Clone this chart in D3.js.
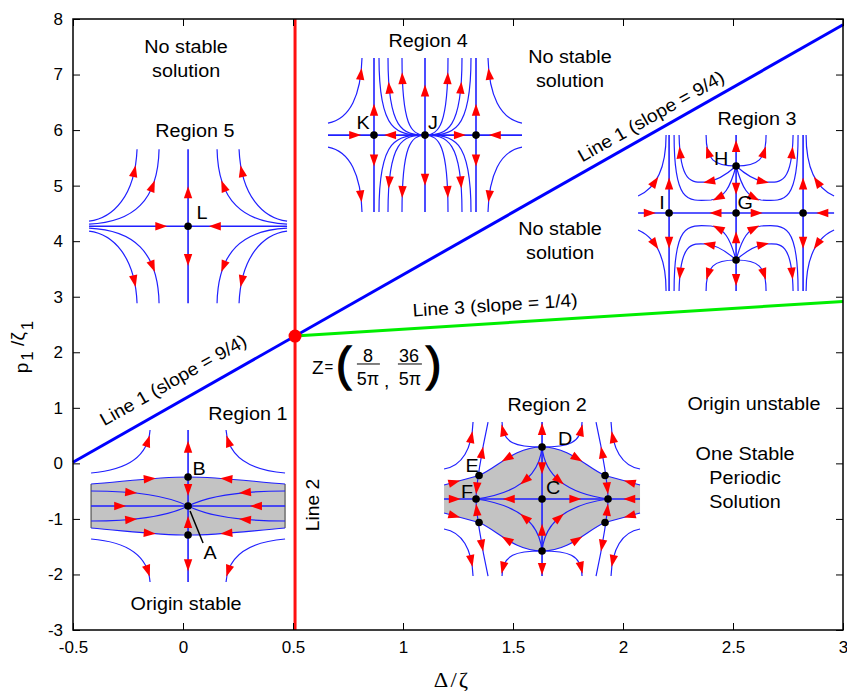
<!DOCTYPE html>
<html><head><meta charset="utf-8">
<script src="https://cdn.jsdelivr.net/npm/d3@7"></script>
<style>
body{margin:0;background:#fff}
text{font-family:"Liberation Sans",Arial,sans-serif;fill:#000}
</style>
</head><body>
<svg id="c" width="847" height="691"></svg>
<script>
// ---------- data ----------
const xDomain = [-0.5, 3];
const yDomain = [-3, 8];
const xTickValues = [-0.5, 0, 0.5, 1, 1.5, 2, 2.5, 3];
const xTickLabels = ["-0.5", "0", "0.5", "1", "1.5", "2", "2.5", "3"];
const yTickValues = [-3, -2, -1, 0, 1, 2, 3, 4, 5, 6, 7, 8];
const yTickLabels = ["-3", "-2", "-1", "0", "1", "2", "3", "4", "5", "6", "7", "8"];
const pointZ = [8 / (5 * Math.PI), 36 / (5 * Math.PI)];
const line1Slope = 9 / 4;
const line3Slope = 1 / 4;
const line1XRange = [-0.5, 3];
const line3XRange = [pointZ[0], 3];
const line2YRange = [-3, 8];

// text annotations: [lines, x, y] (data coordinates of centre)
const annotations = [
  [["No stable", "solution"], 0.014, 7.496],
  [["Region 5"], 0.054, 5.984],
  [["Region 4"], 1.114, 7.604],
  [["No stable", "solution"], 1.759, 7.316],
  [["Region 3"], 2.609, 6.20],
  [["No stable", "solution"], 1.714, 4.237],
  [["Region 1"], 0.295, 0.889],
  [["Region 2"], 1.655, 1.051],
  [["Origin unstable"], 2.595, 1.069],
  [["One Stable", "Periodic", "Solution"], 2.555, 0.169],
  [["Origin stable"], 0.014, -2.532]
];
// labels along the lines: [text, x, y, slope]
const lineLabels = [
  ["Line 1 (slope = 9/4)", -0.045, 1.50, line1Slope],
  ["Line 1 (slope = 9/4)", 2.127, 6.25, line1Slope],
  ["Line 3 (slope = 1/4)", 1.418, 2.85, line3Slope]
];
const line2Label = ["Line 2", 0.591, -0.75];
const zLabelAnchor = [0.586, 1.735];

// ---------- phase-portrait insets (local pixel units around centre) ----------
const regionL = {
  center: [0.023, 4.27],
  curves: [
    {pts: [[-99, 0], [0, 0]], arrows: [[0.73, 1]], mirror: "x", main: 1},
    {pts: [[0, 0], [0, -77]], arrows: [[0.44, 1]], mirror: "y", main: 1},
    {pts: [[-99, -5], [-75, -8], [-53, -30], [-51, -77]], arrows: [[0.83, 1]], mirror: "xy"},
    {pts: [[-99, -2], [-55, -4], [-30, -25], [-29, -77]], arrows: [[0.72, 1]], mirror: "xy"}
  ],
  dots: [[0, 0]],
  labels: [["L", 14, -14]]
};
const regionJ = {
  center: [1.10, 5.91],
  curves: [
    {pts: [[-97, 0], [0, 0]], arrows: [[0.28, 1], [0.64, -1]], mirror: "x", main: 1},
    {pts: [[0, 0], [0, -77]], arrows: [[0.58, 1]], mirror: "y", main: 1},
    {pts: [[-51, 0], [-51, -77]], arrows: [[0.33, 1]], mirror: "xy", main: 1},
    {pts: [[0, 0], [-28, 0], [-46, -2], [-46, -77]], arrows: [], mirror: "xy"},
    {pts: [[0, 0], [-22, 0], [-37, -5], [-37, -77]], arrows: [[0.84, 1]], mirror: "xy"},
    {pts: [[0, 0], [-14, 0], [-23, -10], [-23, -77]], arrows: [[0.89, 1]], mirror: "xy"},
    {pts: [[-97, -12], [-75, -16], [-64, -40], [-63, -77]], arrows: [[0.85, 1]], mirror: "xy"}
  ],
  dots: [[0, 0], [-51, 0], [51, 0]],
  labels: [["K", -62, -13], ["J", 8, -13]]
};
const regionG = {
  center: [2.514, 4.507],
  curves: [
    {pts: [[-98, 0], [0, 0]], arrows: [[0.12, 1], [0.79, -1]], mirror: "x", main: 1},
    {pts: [[0, 0], [0, -78]], arrows: [[0.31, -1], [0.86, 1]], mirror: "y", main: 1},
    {pts: [[-67, 0], [-67, -78]], arrows: [[0.38, 1]], mirror: "xy", main: 1},
    {pts: [[0, -47], [-22, -47], [-30, -53], [-30, -78]], arrows: [[0.72, 1]], mirror: "xy"},
    {pts: [[0, -47], [-10, -38], [-20, -32], [-30, -31], [-45, -30], [-56, -30], [-57, -78]], arrows: [[0.45, 1], [0.93, 1]], mirror: "xy"},
    {pts: [[0, -47], [-6, -25], [-12, -15], [-25, -13], [-50, -11], [-62, -12], [-62, -78]], arrows: [[0.4, 1]], mirror: "xy"},
    {pts: [[-98, -17], [-80, -25], [-70, -45], [-70, -78]], arrows: [[0.38, 1]], mirror: "xy"}
  ],
  dots: [[0, 0], [0, -47], [0, 47], [-67, 0], [67, 0]],
  labels: [["H", -15, -55], ["G", 9, -11], ["I", -74, -11]]
};
const regionA = {
  center: [0.023, -0.768],
  shade: "M-97,-22C-60,-25,-30,-29,0,-29C30,-29,60,-25,97,-22L97,22C60,25,30,29,0,29C-30,29,-60,25,-97,22Z",
  edges: [[[-97, -22], [-97, 22]], [[97, -22], [97, 22]]],
  curves: [
    {pts: [[-97, -22], [-60, -25], [-30, -29], [0, -29]], arrows: [[0.58, 1]], mirror: "xy"},
    {pts: [[-97, -15], [-50, -15], [-20, -10], [0, 0]], arrows: [[0.32, 1]], mirror: "xy"},
    {pts: [[-97, 0], [0, 0]], arrows: [[0.3, 1]], mirror: "x", main: 1},
    {pts: [[0, 0], [0, -76]], arrows: [[0.21, -1], [0.78, 1]], mirror: "y", main: 1},
    {pts: [[-97, -33], [-60, -36], [-40, -50], [-38, -76]], arrows: [[0.85, 1]], mirror: "xy"}
  ],
  dots: [[0, 0], [0, -29], [0, 29]],
  labels: [["B", 11, -38], ["A", 22, 46]],
  leader: [[2, 5], [15, 37]]
};
const regionC = {
  center: [1.632, -0.642],
  shade: "M-98,-14L-63,-23.5C-45,-31,-28,-52,0,-52C28,-52,45,-31,63,-23.5L98,-14L98,14L63,23.5C45,31,28,52,0,52C-28,52,-45,31,-63,23.5L-98,14Z",
  edges: [],
  curves: [
    {pts: [[-98, -14], [-63, -23.5]], arrows: [[0.3, 1]], mirror: "xy"},
    {pts: [[-63, -23.5], [-45, -31], [-28, -52], [0, -52]], arrows: [[0.5, -1]], mirror: "xy"},
    {pts: [[-98, 0], [0, 0]], arrows: [[0.11, 1], [0.66, -1]], mirror: "x", main: 1},
    {pts: [[0, 0], [0, -77]], arrows: [[0.4, -1], [0.91, 1]], mirror: "y", main: 1},
    {pts: [[-66, 0], [-66, -12], [-61, -45], [-54, -77]], arrows: [[0.22, -1], [0.68, 1]], mirror: "xy"},
    {pts: [[0, -52], [-25, -52], [-40, -55], [-40, -77]], arrows: [[0.86, 1]], mirror: "xy"},
    {pts: [[0, -52], [-3, -20], [-30, -5], [-66, 0]], arrows: [[0.45, 1]], mirror: "xy"},
    {pts: [[-98, -30], [-80, -33], [-70, -50], [-69, -77]], arrows: [[0.8, 1]], mirror: "xy"}
  ],
  dots: [[0, 0], [0, -52], [0, 52], [-66, 0], [66, 0], [-63, -23.5], [63, -23.5], [-63, 23.5], [63, 23.5]],
  labels: [["D", 23, -61], ["E", -70, -34], ["F", -75, -8], ["C", 11, -12]]
};
const insets = [regionL, regionJ, regionG, regionA, regionC];

// ---------- drawing ----------
const svg = d3.select("#c");
const X = d3.scaleLinear().domain(xDomain).range([73, 843]);
const Y = d3.scaleLinear().domain(yDomain).range([630, 19]);
const SX = 1.07; // horizontal text stretch of the original

function txt(g, str, px, py, o = {}) {
  const t = g.append("text")
    .attr("transform", `translate(${px},${py}) rotate(${o.rot || 0}) scale(${o.sx || SX},1)`)
    .attr("text-anchor", o.anchor || "middle")
    .attr("dy", o.dy || "0.35em")
    .style("font-size", (o.fs || 18.5) + "px");
  if (o.family) t.style("font-family", o.family);
  if (o.weight) t.style("font-weight", o.weight);
  t.text(str);
  return t;
}

function evalCurve(pts, t) {
  if (pts.length === 2) {
    const [a, b] = pts;
    return {p: [a[0] + (b[0] - a[0]) * t, a[1] + (b[1] - a[1]) * t], d: [b[0] - a[0], b[1] - a[1]]};
  }
  const n = (pts.length - 1) / 3;
  const s = Math.min(Math.floor(t * n), n - 1);
  const u = t * n - s, m = 1 - u;
  const p0 = pts[3 * s], p1 = pts[3 * s + 1], p2 = pts[3 * s + 2], p3 = pts[3 * s + 3];
  const p = [0, 1].map(k => m * m * m * p0[k] + 3 * m * m * u * p1[k] + 3 * m * u * u * p2[k] + u * u * u * p3[k]);
  const d = [0, 1].map(k => 3 * m * m * (p1[k] - p0[k]) + 6 * m * u * (p2[k] - p1[k]) + 3 * u * u * (p3[k] - p2[k]));
  return {p, d};
}
function variants(c) {
  const m = c.mirror || "";
  const out = [c.pts];
  if (m.includes("x")) out.push(c.pts.map(([a, b]) => [-a, b]));
  if (m.includes("y")) out.push(...out.map(ps => ps.map(([a, b]) => [a, -b])));
  return out;
}

const gInsets = svg.append("g");
insets.forEach(R => {
  const ox = X(R.center[0]), oy = Y(R.center[1]);
  const lx = d3.scaleLinear().domain([0, 1]).range([ox, ox + 1]);
  const ly = d3.scaleLinear().domain([0, 1]).range([oy, oy + 1]);
  const g = gInsets.append("g");
  if (R.shade) {
    g.append("path").attr("d", R.shade).attr("transform", `translate(${ox},${oy})`)
      .attr("fill", "#c3c3c3").attr("stroke", "none");
    R.edges.forEach(e => g.append("line")
      .attr("x1", lx(e[0][0])).attr("y1", ly(e[0][1])).attr("x2", lx(e[1][0])).attr("y2", ly(e[1][1]))
      .attr("stroke", "#555").attr("stroke-width", 1.2));
  }
  const arrowList = [];
  R.curves.forEach(c => {
    variants(c).forEach(ps => {
      const path = d3.path();
      path.moveTo(lx(ps[0][0]), ly(ps[0][1]));
      if (ps.length === 2) path.lineTo(lx(ps[1][0]), ly(ps[1][1]));
      else for (let i = 1; i < ps.length; i += 3)
        path.bezierCurveTo(lx(ps[i][0]), ly(ps[i][1]), lx(ps[i + 1][0]), ly(ps[i + 1][1]), lx(ps[i + 2][0]), ly(ps[i + 2][1]));
      g.append("path").attr("d", path.toString()).attr("fill", "none")
        .attr("stroke", "#1f1fff").attr("stroke-width", c.main ? 1.6 : 1.2);
      c.arrows.forEach(([t, dir]) => {
        const e = evalCurve(ps, t);
        const len = Math.hypot(e.d[0], e.d[1]) || 1;
        arrowList.push({p: e.p, tx: dir * e.d[0] / len, ty: dir * e.d[1] / len});
      });
    });
  });
  arrowList.forEach(a => {
    const L = 12, hw = 4.2;
    const cx = lx(a.p[0]), cy = ly(a.p[1]);
    const tip = [cx + a.tx * L / 2, cy + a.ty * L / 2];
    const b = [cx - a.tx * L / 2, cy - a.ty * L / 2];
    const nx = -a.ty, ny = a.tx;
    g.append("path")
      .attr("d", `M${tip[0]},${tip[1]}L${b[0] + nx * hw},${b[1] + ny * hw}L${b[0] - nx * hw},${b[1] - ny * hw}Z`)
      .attr("fill", "#ff0000");
  });
  if (R.leader) {
    g.append("line").attr("x1", lx(R.leader[0][0])).attr("y1", ly(R.leader[0][1]))
      .attr("x2", lx(R.leader[1][0])).attr("y2", ly(R.leader[1][1]))
      .attr("stroke", "#000").attr("stroke-width", 1.5);
  }
  R.dots.forEach(d => g.append("circle").attr("cx", lx(d[0])).attr("cy", ly(d[1])).attr("r", 3.8).attr("fill", "#000"));
  R.labels.forEach(l => txt(g, l[0], lx(l[1]), ly(l[2]), {fs: 18.5}));
});

// main lines
const gLines = svg.append("g");
const lineGen = d3.line().x(d => X(d[0])).y(d => Y(d[1]));
gLines.append("path")
  .attr("d", lineGen(line1XRange.map(x => [x, pointZ[1] + line1Slope * (x - pointZ[0])])))
  .attr("stroke", "#0000ff").attr("stroke-width", 3).attr("fill", "none");
gLines.append("path")
  .attr("d", lineGen(line3XRange.map(x => [x, pointZ[1] + line3Slope * (x - pointZ[0])])))
  .attr("stroke", "#00ee00").attr("stroke-width", 3).attr("fill", "none");
gLines.append("path")
  .attr("d", lineGen(line2YRange.map(y => [pointZ[0], y])))
  .attr("stroke", "#ff1010").attr("stroke-width", 3).attr("fill", "none");
gLines.append("circle").attr("cx", X(pointZ[0])).attr("cy", Y(pointZ[1])).attr("r", 6.5).attr("fill", "#ff0000");

// annotations
const gText = svg.append("g");
annotations.forEach(([lines, x, y]) => {
  lines.forEach((s, i) => txt(gText, s, X(x), Y(y) + i * 24, {fs: 18.5}));
});
lineLabels.forEach(([s, x, y, slope]) => {
  const ang = Math.atan2(Y(0) - Y(slope), X(1) - X(0)) * 180 / Math.PI;
  txt(gText, s, X(x), Y(y), {fs: 18, rot: -ang});
});
txt(gText, line2Label[0], X(line2Label[1]), Y(line2Label[2]), {fs: 18, rot: -90});

// Z label
{
  const ax = X(zLabelAnchor[0]), ay = Y(zLabelAnchor[1]);
  const g = gText.append("g");
  txt(g, "Z", ax, ay, {fs: 19, anchor: "start", sx: 1});
  txt(g, "=", ax + 12.5, ay, {fs: 15, anchor: "start", sx: 1});
  txt(g, "(", ax + 24, ay - 3, {fs: 46, anchor: "start", sx: 1}).style("stroke", "#000").style("stroke-width", 1.3);
  txt(g, ")", ax + 114, ay - 3, {fs: 46, anchor: "start", sx: 1}).style("stroke", "#000").style("stroke-width", 1.3);
  txt(g, "8", ax + 56, ay - 11, {fs: 18, sx: 1});
  txt(g, "5π", ax + 56, ay + 12, {fs: 18, sx: 1});
  g.append("line").attr("x1", ax + 45).attr("x2", ax + 68).attr("y1", ay - 3).attr("y2", ay - 3).attr("stroke", "#000").attr("stroke-width", 1);
  txt(g, ",", ax + 72, ay + 13, {fs: 19, anchor: "start", sx: 1});
  txt(g, "36", ax + 97, ay - 11, {fs: 18, sx: 1});
  txt(g, "5π", ax + 98, ay + 12, {fs: 18, sx: 1});
  g.append("line").attr("x1", ax + 86).attr("x2", ax + 110).attr("y1", ay - 3).attr("y2", ay - 3).attr("stroke", "#000").attr("stroke-width", 1);
}

// axes
const gAx = svg.append("g");
const fmtX = d => xTickLabels[xTickValues.indexOf(d)];
const fmtY = d => yTickLabels[yTickValues.indexOf(d)];
const axB = gAx.append("g").attr("transform", `translate(0,${Y(yDomain[0])})`)
  .call(d3.axisBottom(X).tickValues(xTickValues).tickFormat(fmtX).tickSize(-7).tickPadding(11));
const axL = gAx.append("g").attr("transform", `translate(${X(xDomain[0])},0)`)
  .call(d3.axisLeft(Y).tickValues(yTickValues).tickFormat(fmtY).tickSize(-7).tickPadding(10));
const axT = gAx.append("g").attr("transform", `translate(0,${Y(yDomain[1])})`)
  .call(d3.axisTop(X).tickValues(xTickValues).tickFormat("").tickSize(-7));
const axR = gAx.append("g").attr("transform", `translate(${X(xDomain[1])},0)`)
  .call(d3.axisRight(Y).tickValues(yTickValues).tickFormat("").tickSize(-7));
[axB, axL, axT, axR].forEach(a => {
  a.select(".domain").remove();
  a.selectAll(".tick line").attr("stroke", "#000").attr("stroke-width", 1);
  a.selectAll(".tick text").style("font-family", '"Liberation Sans",Arial,sans-serif').style("font-size", "17px").attr("fill", "#000");
});
gAx.append("rect").attr("x", X(xDomain[0])).attr("y", Y(yDomain[1]))
  .attr("width", X(xDomain[1]) - X(xDomain[0])).attr("height", Y(yDomain[0]) - Y(yDomain[1]))
  .attr("fill", "none").attr("stroke", "#000").attr("stroke-width", 1.5);

// axis titles
txt(svg, "Δ/ζ", (X(xDomain[0]) + X(xDomain[1])) / 2 - 6, 680, {fs: 21, family: '"Liberation Serif","DejaVu Serif",serif'}).style("letter-spacing", "2px");
{
  const t = svg.append("text").attr("transform", "translate(28,347) rotate(-90)")
    .attr("text-anchor", "middle").style("font-size", "19px");
  t.append("tspan").text("p");
  t.append("tspan").attr("dy", 5).attr("dx", 2).style("font-size", "17px").text("1");
  t.append("tspan").attr("dy", -9).text(" /ζ");
  t.append("tspan").attr("dy", 9).attr("dx", 2).style("font-size", "17px").text("1");
}
</script>
</body></html>
